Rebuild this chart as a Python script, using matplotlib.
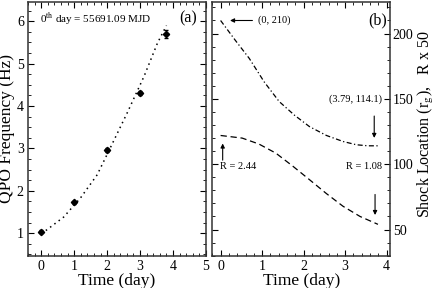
import matplotlib
matplotlib.use("Agg")
import matplotlib.pyplot as plt
from matplotlib.ticker import MultipleLocator

plt.rcParams['font.family'] = ['Liberation Serif', 'DejaVu Serif']
plt.rcParams['mathtext.fontset'] = 'stix'

# Panel (a): QPO frequency data
days = [0.0, 1.0, 2.0, 3.0, 3.79]
qpo_freq = [1.04, 1.73, 2.96, 4.31, 5.70]
qpo_err = [0.03, 0.04, 0.04, 0.05, 0.10]
# Dotted fit curve
fit_x = [0.0, 0.17, 0.68, 1.19, 1.70, 2.15, 2.61, 3.12, 3.53, 3.80]
fit_y = [1.00, 1.08, 1.38, 1.83, 2.38, 3.10, 3.84, 4.70, 5.49, 5.90]

# Panel (b): shock location and R x 50
shock_x = [0.0, 0.35, 0.69, 1.05, 1.41, 1.78, 2.14, 2.55, 2.95, 3.27, 3.55, 3.79]
shock_y = [210.0, 195.0, 181.0, 163.0, 148.0, 137.5, 128.8, 122.0, 117.4, 114.9, 114.1, 114.1]
ratio_x = [0.0, 0.52, 0.92, 1.33, 1.74, 2.14, 2.55, 2.95, 3.36, 3.79]
ratio_y = [122.0, 120.0, 115.5, 108.5, 98.5, 88.2, 77.5, 67.8, 60.0, 54.0]

fig = plt.figure(figsize=(4.36, 2.88), dpi=100)
ax1 = fig.add_axes([28/436, 1-255.7/288, 178/436, 253.5/288])
ax2 = fig.add_axes([212.3/436, 1-255.7/288, 177.7/436, 253.5/288])

for ax in (ax1, ax2):
    for s in ax.spines.values():
        s.set_linewidth(1.1)
        s.set_color('#333333')
    ax.tick_params(which='both', direction='in', top=True, right=True, labelsize=10, pad=3)
    ax.tick_params(which='major', length=4, width=0.8)
    ax.tick_params(which='minor', length=2, width=0.6)

# Panel (a)
ax1.plot(fit_x, fit_y, linestyle=(0, (1, 2.5)), color='black', linewidth=1.1)
ax1.errorbar(days, qpo_freq, yerr=qpo_err, fmt='D', color='black', markersize=3.2,
             elinewidth=0.8, capsize=1.5)
ax1.set_xlim(-0.4, 5.0)
ax1.set_ylim(0.47, 6.45)
ax1.xaxis.set_major_locator(MultipleLocator(1))
ax1.xaxis.set_minor_locator(MultipleLocator(0.2))
ax1.yaxis.set_major_locator(MultipleLocator(1))
ax1.yaxis.set_minor_locator(MultipleLocator(0.25))
ax1.set_xlabel('Time (day)', fontsize=12.5, labelpad=0)
ax1.set_ylabel('QPO Frequency (Hz)', fontsize=12.5, labelpad=1)
ax1.text(0.07, 0.935, r'0$^{\mathrm{th}}$ day = 55691.09 MJD', transform=ax1.transAxes,
         fontsize=8, va='center', ha='left')
ax1.text(0.95, 0.935, '(a)', transform=ax1.transAxes, fontsize=11.5, va='center', ha='right')

# Panel (b)
ax2.plot(shock_x, shock_y, linestyle=(0, (4, 2, 1, 2)), color='black', linewidth=0.9)
ax2.plot(ratio_x, ratio_y, linestyle=(0, (5, 3)), color='black', linewidth=0.9)
ax2.set_xlim(-0.2, 4.08)
ax2.set_ylim(30, 224)
ax2.xaxis.set_major_locator(MultipleLocator(1))
ax2.xaxis.set_minor_locator(MultipleLocator(0.2))
ax2.yaxis.set_major_locator(MultipleLocator(50))
ax2.yaxis.set_minor_locator(MultipleLocator(10))
ax2.yaxis.tick_right()
ax2.tick_params(which='both', left=True, right=True, labelleft=False, labelright=True)
ax2.tick_params(axis='y', pad=2)
ax2.yaxis.set_label_position('right')
ax2.set_xlabel('Time (day)', fontsize=12.5, labelpad=0)
ax2.set_ylabel(r'Shock Location (r$_{\mathrm{g}}$),   R x 50', fontsize=11.5)
ax2.yaxis.set_label_coords(1.148, 0.52)
ax2.text(0.985, 0.93, '(b)', transform=ax2.transAxes, fontsize=11.5, va='center', ha='right')

arw = dict(arrowstyle='-|>', color='black', lw=0.8, mutation_scale=6)
ax2.annotate('(0, 210)', xy=(0.16, 210), xytext=(0.9, 210), fontsize=7.5,
             va='center', ha='left', arrowprops=arw)
ax2.text(3.88, 150, '(3.79, 114.1)', fontsize=7.5, ha='right', va='center')
ax2.annotate('', xy=(3.70, 118), xytext=(3.70, 139), arrowprops=arw)
ax2.annotate('', xy=(0.05, 118), xytext=(0.05, 101), arrowprops=arw)
ax2.text(-0.02, 98, 'R = 2.44', fontsize=7.5, ha='left', va='center')
ax2.text(3.89, 98, 'R = 1.08', fontsize=7.5, ha='right', va='center')
ax2.annotate('', xy=(3.72, 59), xytext=(3.72, 79), arrowprops=arw)

fig.savefig('out.png', dpi=100)
